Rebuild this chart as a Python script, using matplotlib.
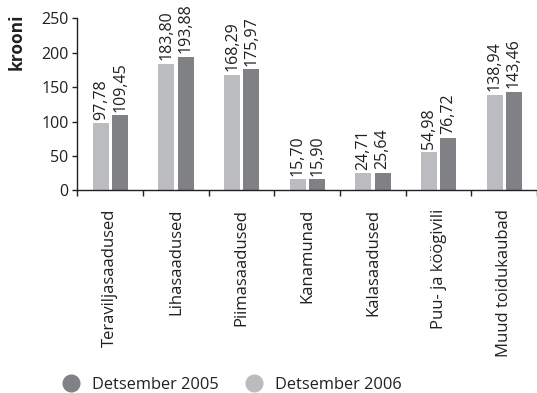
import matplotlib
matplotlib.use("Agg")
import matplotlib.pyplot as plt
from matplotlib.lines import Line2D
import numpy as np

categories = ["Teraviljasaadused", "Lihasaadused", "Piimasaadused", "Kanamunad",
              "Kalasaadused", "Puu- ja köögivili", "Muud toidukaubad"]
dec2006 = [97.78, 183.80, 168.29, 15.70, 24.71, 54.98, 138.94]
dec2005 = [109.45, 193.88, 175.97, 15.90, 25.64, 76.72, 143.46]
series_names = ["Detsember 2005", "Detsember 2006"]
yticks = [0, 50, 100, 150, 200, 250]

light = "#bbbcc0"
dark = "#808185"
txt = "#231f20"
plt.rcParams['font.family'] = ['Open Sans', 'DejaVu Sans']

W, H = 537, 393
fig = plt.figure(figsize=(W/100, H/100), dpi=100)
ax = fig.add_axes([77.5/W, 1-190.3/H, (W-77.5)/W, 172/H])

x = np.arange(len(categories))
w = 0.245
b1 = ax.bar(x - 0.145, dec2006, w, color=light)
b2 = ax.bar(x + 0.15, dec2005, w, color=dark)

def fmt(v):
    return f"{v:.2f}".replace(".", ",")

for bars, vals in ((b1, dec2006), (b2, dec2005)):
    for r, v in zip(bars, vals):
        ax.annotate(fmt(v), (r.get_x() + r.get_width()/2, v), xytext=(0, 2.5),
                    textcoords="offset points", rotation=90, ha="center", va="bottom",
                    fontsize=11.5, color=txt)

ax.set_xlim(-0.5, len(categories) - 0.5)
ax.set_ylim(0, 250)
ax.set_yticks(yticks)
ax.set_yticklabels([str(t) for t in yticks], fontsize=11.5, color=txt)
ax.set_xticks(np.arange(len(categories) + 1) - 0.5)
ax.set_xticklabels([])
ax.set_xticks(x, minor=True)
ax.set_xticklabels(categories, minor=True, rotation=90, fontsize=12, color=txt,
                   va="top", ha="center")
ax.tick_params(axis="x", which="minor", length=0, pad=13.5)
ax.tick_params(axis="x", which="major", length=4, direction="out", width=1, color=txt)
ax.tick_params(axis="y", length=3.5, direction="out", width=1, color=txt, pad=3)
for s in ("top", "right"):
    ax.spines[s].set_visible(False)
for s in ("left", "bottom"):
    ax.spines[s].set_color(txt)
    ax.spines[s].set_linewidth(1)

ax.set_ylabel("krooni", fontsize=12.5, fontweight="bold", color=txt)
ax.yaxis.set_label_coords(-0.112, 0.862)

handles = [Line2D([], [], marker="o", linestyle="none", markersize=12, color=dark),
           Line2D([], [], marker="o", linestyle="none", markersize=12, color=light)]
fig.legend(handles, series_names, loc="center left", bbox_to_anchor=(62.8/W, 1-385/H),
           ncol=2, frameon=False, fontsize=11.8, handlelength=1.0, handletextpad=0.78,
           columnspacing=1.63, borderpad=0, borderaxespad=0, labelcolor=txt)

fig.savefig("out.png", dpi=100)
